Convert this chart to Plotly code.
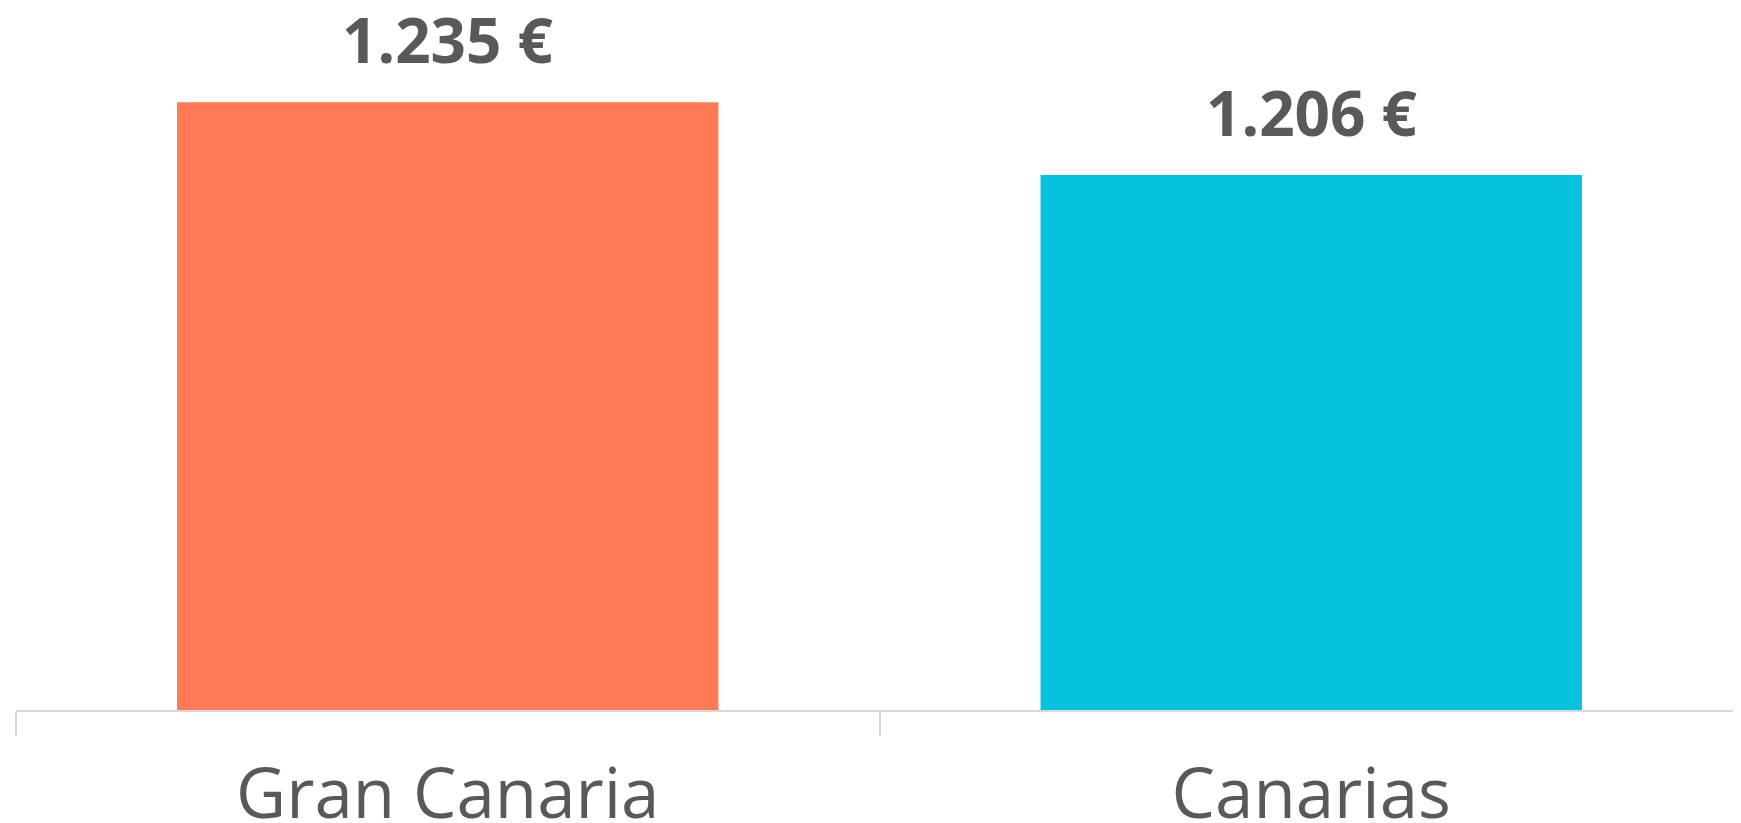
import plotly.graph_objects as go

categories = ["Gran Canaria", "Canarias"]
values = [1235, 1206]
value_labels = ["1.235 €", "1.206 €"]
bar_colors = ["#FF7A55", "#05C3DE"]

fig = go.Figure()
fig.add_trace(go.Bar(
    x=categories,
    y=values,
    marker=dict(color=bar_colors, line=dict(width=0)),
    showlegend=False,
    hoverinfo="skip",
))

for c, v, t in zip(categories, values, value_labels):
    fig.add_annotation(
        x=c, y=v, text=t, showarrow=False,
        xanchor="center", yanchor="bottom", yshift=19,
        font=dict(family="Open Sans", size=62, color="#595959", weight="bold"),
    )

fig.update_layout(
    width=1741, height=823,
    margin=dict(l=8, r=6, t=0, b=121),
    paper_bgcolor="white", plot_bgcolor="white",
    bargap=0.373,
)
fig.update_xaxes(
    automargin=False,
    showline=True, linecolor="#d9d9d9", linewidth=2,
    ticks="outside", tickson="boundaries", ticklen=24, tickwidth=2, tickcolor="#d9d9d9",
    ticklabelstandoff=23,
    tickfont=dict(family="Open Sans", size=69, color="#595959"),
    showgrid=False, zeroline=False,
)
fig.update_yaxes(
    automargin=False,
    range=[993, 1272.5], visible=False, showgrid=False, zeroline=False,
)

fig.write_html("out.html")
